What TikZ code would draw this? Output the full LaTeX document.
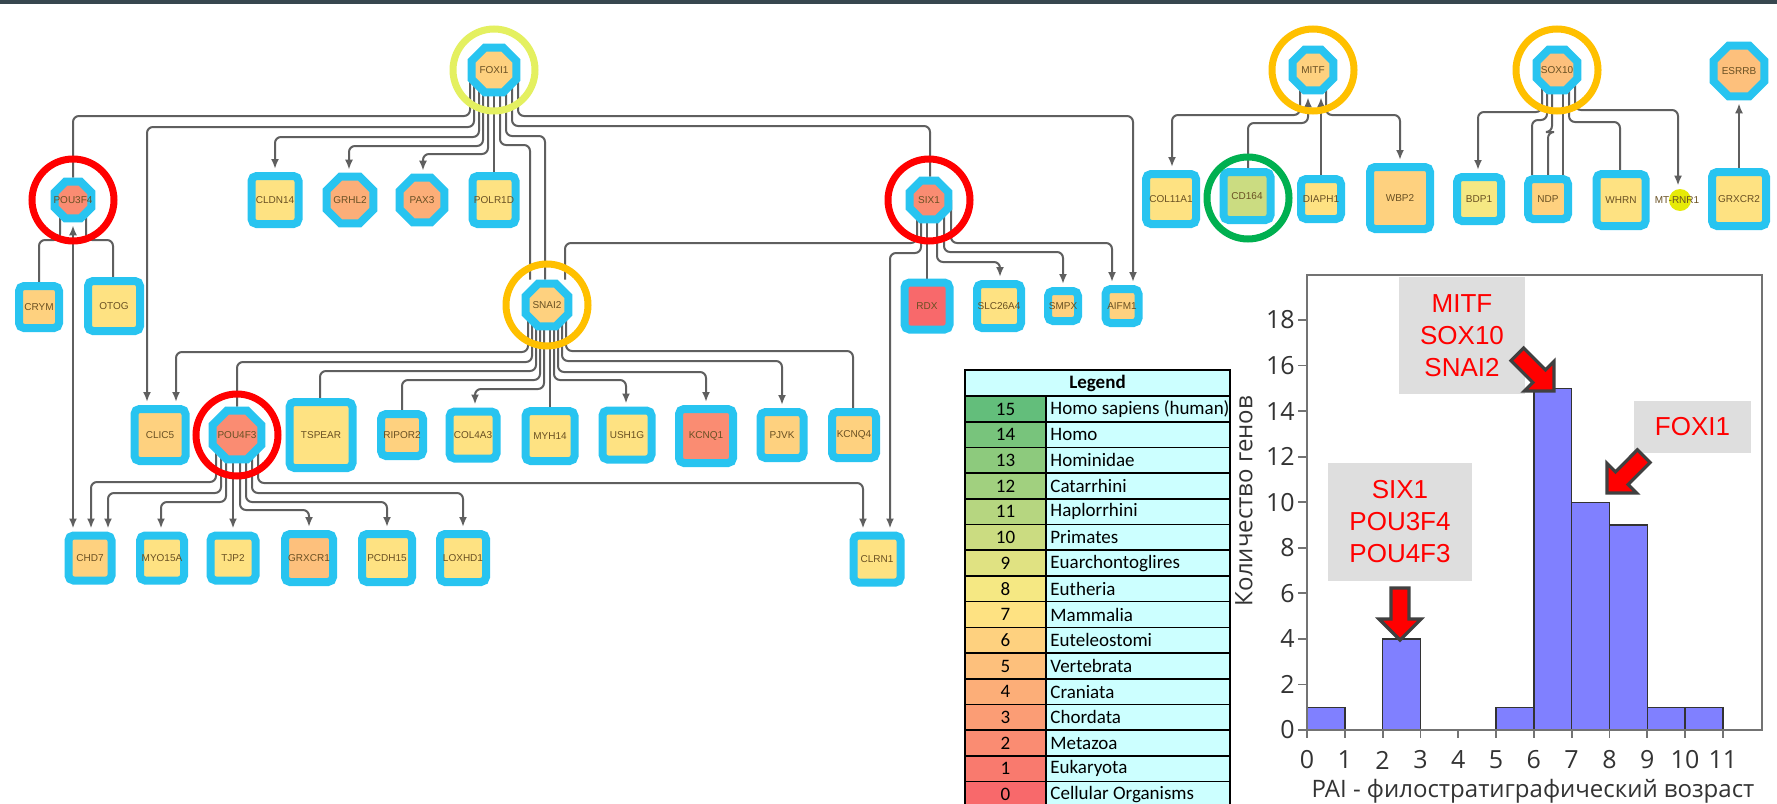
\documentclass[tikz,border=0pt]{standalone}
\usepackage{fontspec}
\setmainfont{Carlito}
\newfontfamily\arialf{Liberation Sans}
\newfontfamily\opensf{Open Sans}
\usetikzlibrary{arrows.meta,positioning,shapes.geometric,backgrounds,calc}

% phylostratum colours (legend scale)
\definecolor{p0}{RGB}{248,105,107}
\definecolor{p1}{RGB}{249,122,110}
\definecolor{p2}{RGB}{250,140,114}
\definecolor{p3}{RGB}{251,157,117}
\definecolor{p4}{RGB}{252,174,120}
\definecolor{p5}{RGB}{253,192,124}
\definecolor{p6}{RGB}{254,209,127}
\definecolor{p7}{RGB}{254,226,130}
\definecolor{p8}{RGB}{245,232,131}
\definecolor{p9}{RGB}{224,226,130}
\definecolor{p10}{RGB}{203,220,129}
\definecolor{p11}{RGB}{182,214,128}
\definecolor{p12}{RGB}{161,208,127}
\definecolor{p13}{RGB}{141,202,125}
\definecolor{p14}{RGB}{120,196,124}
\definecolor{p15}{RGB}{99,190,123}
\definecolor{cyanb}{RGB}{40,196,240}
\definecolor{genetext}{RGB}{105,80,35}
\definecolor{wirec}{RGB}{95,95,95}
\definecolor{legcyan}{RGB}{204,255,255}
\definecolor{hlyg}{RGB}{228,240,96}
\definecolor{hlor}{RGB}{255,192,0}
\definecolor{hlred}{RGB}{255,0,0}
\definecolor{hlgr}{RGB}{0,176,80}
\definecolor{topbar}{RGB}{55,71,79}
\definecolor{barfill}{RGB}{128,128,255}
\definecolor{boxgray}{RGB}{222,222,222}
\definecolor{arrline}{RGB}{64,64,64}

\newcommand{\genef}{\arialf\fontsize{5}{5}\selectfont}
\newcommand{\gn}[1]{\makebox[0pt]{#1}}
\newcommand{\link}[6][wire]{\draw[#1] (#2.center -| #3,0) |- (#5,#4) -- (#5,#4 |- #6.north);}

\begin{document}
\begin{tikzpicture}[
  x=0.5pt, y=-0.5pt,
  gene/.style n args={3}{rectangle, rounded corners=2.5pt, draw=cyanb, line width=4pt, fill=#1,
    minimum width={(#2-8)*0.5pt}, minimum height={(#3-8)*0.5pt}, inner sep=0pt, font=\genef, text=genetext},
  tf/.style 2 args={regular polygon, regular polygon sides=8, draw=cyanb, line width=4pt, fill=#1,
    minimum size={(#2/0.924-8)*0.5pt}, inner sep=0pt, font=\genef, text=genetext},
  mtdot/.style={circle, fill=yellow!90!green, minimum size=11pt, inner sep=0pt},
  hl/.style={circle, draw=#1, line width=3.5pt, minimum size=41pt, inner sep=0pt},
  wire/.style={draw=wirec, line width=1pt, rounded corners=3pt},
  arr/.style={wire, -{Latex[length=5pt,width=4pt]}, shorten >=1.5pt},
  lgn/.style={font=\fontsize{9.5}{11}\selectfont},
  lgt/.style={anchor=west, inner sep=0pt, font=\fontsize{9.5}{11}\selectfont},
  lgline/.style={draw=black, line width=0.8pt},
  histbar/.style={fill=barfill, draw=black!80, line width=0.7pt},
  chartline/.style={draw=black!55, line width=0.9pt},
  ytick/.style={anchor=east, inner sep=1pt, font=\opensf\fontsize{12.5}{14}\selectfont, text=black!80},
  xtick/.style={inner sep=0pt, font=\opensf\fontsize{12.5}{14}\selectfont, text=black!80},
  annot/.style={fill=boxgray, text=red, align=center, inner sep=0pt, font=\arialf\fontsize{13}{16}\selectfont},
  blockarr/.style={fill=red, draw=arrline, line width=1.6pt, line join=miter}
]
\useasboundingbox (0,0) rectangle (1777,803);
\clip (0,0) rectangle (1777,803);

% regulators
\node[tf={p6}{52}] (foxi) at (494,70) {\gn{FOXI1}};
\node[tf={p2}{44}] (pou3) at (73,200) {\gn{POU3F4}};
\node[tf={p2}{46}] (six) at (929,200) {\gn{SIX1}};
\node[tf={p6}{50}] (snai) at (547,305) {\gn{SNAI2}};
\node[tf={p2}{56}] (pou4) at (237,435) {\gn{POU4F3}};
\node[tf={p6}{48}] (mitf) at (1313,70) {\gn{MITF}};
\node[tf={p5}{48}] (sox) at (1557,70) {\gn{SOX10}};
\node[tf={p5}{58}] (esrrb) at (1739,71) {\gn{ESRRB}};

% targets
\node[gene={p7}{55}{56}] (cldn) at (275,200) {\gn{CLDN14}};
\node[tf={p4}{54}] (grhl) at (350,200) {\gn{GRHL2}};
\node[tf={p4}{52}] (pax) at (422,200) {\gn{PAX3}};
\node[gene={p7}{51}{56}] (polr) at (494,200) {\gn{POLR1D}};
\node[gene={p6}{48}{50}] (crym) at (39,307) {\gn{CRYM}};
\node[gene={p7}{60}{58}] (otog) at (114,306) {\gn{OTOG}};
\node[gene={p0}{53}{55}] (rdx) at (927,306) {\gn{RDX}};
\node[gene={p7}{52}{52}] (slc) at (999,306) {\gn{SLC26A4}};
\node[gene={p6}{38}{38}] (smpx) at (1063,306) {\gn{SMPX}};
\node[gene={p6}{41}{42}] (aifm) at (1122,306) {\gn{AIFM1}};
\node[gene={p6}{59}{60}] (clic) at (160,435) {\gn{CLIC5}};
\node[gene={p7}{71}{74}] (tspear) at (321,435) {\gn{TSPEAR}};
\node[gene={p6}{50}{50}] (ripor) at (402,435) {\gn{RIPOR2}};
\node[gene={p7}{55}{55}] (col4) at (473,435) {\gn{COL4A3}};
\node[gene={p7}{57}{58}] (myh) at (550,436) {\gn{MYH14}};
\node[gene={p7}{57}{57}] (ush) at (627,435) {\gn{USH1G}};
\node[gene={p2}{62}{62}] (kcnq1) at (706,436) {\gn{KCNQ1}};
\node[gene={p6}{51}{54}] (pjvk) at (782,435) {\gn{PJVK}};
\node[gene={p6}{52}{54}] (kcnq4) at (854,435) {\gn{KCNQ4}};
\node[gene={p6}{51}{53}] (chd) at (90,558) {\gn{CHD7}};
\node[gene={p7}{52}{53}] (myo) at (162,558) {\gn{MYO15A}};
\node[gene={p7}{53}{53}] (tjp) at (233,558) {\gn{TJP2}};
\node[gene={p5}{56}{56}] (grxa) at (309,558) {\gn{GRXCR1}};
\node[gene={p7}{58}{56}] (pcdh) at (387,558) {\gn{PCDH15}};
\node[gene={p7}{54}{56}] (lox) at (463,558) {\gn{LOXHD1}};
\node[gene={p7}{55}{55}] (clrn) at (877,559) {\gn{CLRN1}};
\node[gene={p7}{58}{58}] (colx) at (1171,199) {\gn{COL11A1}};
\node[gene={p10}{55}{56}] (cdx) at (1247,196) {\gn{CD164}};
\node[gene={p7}{48}{48}] (diaph) at (1321,199) {\gn{DIAPH1}};
\node[gene={p6}{68}{70}] (wbp) at (1400,198) {\gn{WBP2}};
\node[gene={p8}{52}{52}] (bdp) at (1479,199) {\gn{BDP1}};
\node[gene={p6}{48}{48}] (ndp) at (1548,199) {\gn{NDP}};
\node[gene={p7}{57}{60}] (whrn) at (1621,200) {\gn{WHRN}};
\node[mtdot] (mtr) at (1680,200) {};
\node[font=\genef, text=genetext, inner sep=0pt] (mtrlab) at (1677,200) {MT-RNR1};
\node[gene={p7}{62}{62}] (grxb) at (1739,199) {\gn{GRXCR2}};

\begin{scope}[on background layer]
  \fill[white] (0,0) rectangle (1777,803);
  % FOXI1
  \link{foxi}{470}{116}{73}{pou3}
  \link[arr]{foxi}{474}{127}{147}{clic}
  \link[arr]{foxi}{479}{137}{275}{cldn}
  \link[arr]{foxi}{483}{146}{349}{grhl}
  \link[arr]{foxi}{488}{154}{423}{pax}
  \draw[wire] (foxi) -- (polr);
  \link{foxi}{500}{145}{530}{snai}
  \link{foxi}{506}{136}{545}{snai}
  \link{foxi}{512}{126}{930}{six}
  \link[arr]{foxi}{518}{116}{1133}{aifm}
  % POU3F4
  \link{pou3}{60}{240}{39}{crym}
  \link{pou3}{86}{240}{113}{otog}
  \draw[wire, {Latex[length=5pt,width=4pt]}-{Latex[length=5pt,width=4pt]}, shorten <=1.5pt, shorten >=1.5pt]
    (pou3.south) -- (pou3.south |- chd.north);
  % SIX1
  \link{six}{917}{243}{565}{snai}
  \link[arr]{six}{921}{253}{890}{clrn}
  \draw[wire] (rdx.north |- six.center) -- (rdx.north);
  \link[arr]{six}{937}{262}{1000}{slc}
  \link[arr]{six}{944}{252}{1063}{smpx}
  \link[arr]{six}{951}{243}{1112}{aifm}
  % SNAI2
  \link[arr]{snai}{528}{352}{176}{clic}
  \link{snai}{532}{362}{237}{pou4}
  \link{snai}{536}{371}{320}{tspear}
  \link{snai}{540}{380}{402}{ripor}
  \link[arr]{snai}{544}{389}{475}{col4}
  \draw[wire] (myh.north |- snai.center) -- (myh.north);
  \link[arr]{snai}{554}{380}{626}{ush}
  \link[arr]{snai}{558}{372}{706}{kcnq1}
  \link[arr]{snai}{562}{361}{782}{pjvk}
  \link{snai}{566}{351}{853}{kcnq4}
  % POU4F3
  \link[arr]{pou4}{216}{482}{91}{chd}
  \link[arr]{pou4}{221}{493}{108}{chd}
  \link[arr]{pou4}{226}{502}{161}{myo}
  \draw[arr] (tjp.north |- pou4.center) -- (tjp.north);
  \link[arr]{pou4}{240}{510}{309}{grxa}
  \link[arr]{pou4}{246}{502}{387}{pcdh}
  \link[arr]{pou4}{252}{493}{463}{lox}
  \link[arr]{pou4}{258}{483}{863}{clrn}
  % MITF
  \link[arr]{mitf}{1300}{115}{1172}{colx}
  \draw[arr] (1248,0 |- cdx.north) |- (1308,123) -- (1308,0 |- mitf.south);
  \draw[arr] (1321,0 |- diaph.north) -- (1321,0 |- mitf.south);
  \link[arr]{mitf}{1326}{115}{1400}{wbp}
  % SOX10
  \link[arr]{sox}{1542}{112}{1478}{bdp}
  \link{sox}{1547}{120}{1532}{ndp}
  \link{sox}{1552}{132}{1548}{ndp}
  \draw[wire] (1563,0 |- sox.center) -- (1563,0 |- ndp.north);
  \link{sox}{1569}{122}{1620}{whrn}
  \link[arr]{sox}{1575}{110}{1678}{mtr}
  \draw[arr] (esrrb.south |- grxb.north) -- (esrrb.south);
\end{scope}
\fill[topbar] (0,0) rectangle (1777,4);

% highlighted regulators
\node[hl=hlyg] (hfoxi) at (foxi) {};
\node[hl=hlred] (hpou3) at (pou3) {};
\node[hl=hlred] (hsix) at (six) {};
\node[hl=hlor] (hsnai) at (snai) {};
\node[hl=hlred] (hpou4) at (pou4) {};
\node[hl=hlor] (hmitf) at (mitf) {};
\node[hl=hlor] (hsox) at (sox) {};
\node[hl=hlgr] (hcdx) at (1248,198) {};

% legend
\fill[legcyan] (965,370) rectangle (1230,396);
\node[font=\bfseries\fontsize{9.5}{11}\selectfont] (lgh) at (1097.5,383) {Legend};
\foreach \v/\nm [count=\k from 0] in {15/Homo sapiens (human), 14/Homo, 13/Hominidae, 12/Catarrhini,
    11/Haplorrhini, 10/Primates, 9/Euarchontoglires, 8/Eutheria, 7/Mammalia, 6/Euteleostomi,
    5/Vertebrata, 4/Craniata, 3/Chordata, 2/Metazoa, 1/Eukaryota, 0/Cellular Organisms}{
  \fill[p\v] (965,{396+25.7*\k}) rectangle (1046,{421.7+25.7*\k});
  \fill[legcyan] (1046,{396+25.7*\k}) rectangle (1230,{421.7+25.7*\k});
  \node[lgn] (ln\v) at (1005.5,{409+25.7*\k}) {\v};
  \node[lgt] (lt\v) at (1050,{409+25.7*\k}) {\nm};
}
\foreach \k in {0,...,16}
  \draw[lgline] (965,{396+25.7*\k}) -- (1230,{396+25.7*\k});
\draw[lgline] (965,810) -- (965,370) -- (1230,370) -- (1230,810);
\draw[lgline] (1046,396) -- (1046,810);

% histogram
\foreach \b/\h in {0/1, 2/4, 5/1, 6/15, 7/10, 8/9, 9/1, 10/1}
  \draw[histbar] ({1307+37.8*\b},730) rectangle ({1307+37.8*(\b+1)},{730-22.78*\h});
\draw[chartline] (1307,275) rectangle (1762,730);
\foreach \c in {0,2,...,18}{
  \draw[chartline] (1298,{730-22.78*\c}) -- (1307,{730-22.78*\c});
  \node[ytick] (yt\c) at (1297,{730-22.78*\c}) {\c};
}
\foreach \i in {0,...,11}{
  \draw[chartline] ({1307+37.8*\i},730) -- ({1307+37.8*\i},738);
  \node[xtick] (xt\i) at ({1307+37.8*\i},760) {\i};
}
\node[rotate=90, font=\opensf\fontsize{12}{14}\selectfont, text=black!80] (ylab) at (1244,501) {Количество генов};
\node[font=\opensf\fontsize{12}{14}\selectfont, text=black!80] (xlab) at (1533,791) {PAI - филостратиграфический возраст};

\node[annot, minimum width=63pt, minimum height=58.5pt] (n6) at (1462,335.5) {MITF\\SOX10\\SNAI2};
\node[annot, minimum width=58.5pt, minimum height=26pt] (n7) at (1692.5,427) {FOXI1};
\node[annot, minimum width=72pt, minimum height=59pt] (n2) at (1400,522) {SIX1\\POU3F4\\POU4F3};

\draw[blockarr] (1400,640) -- (1421,619) -- (1409,619) -- (1409,588) -- (1391,588) -- (1391,619) -- (1379,619) -- cycle;
\draw[blockarr] (1554,391) -- (1524.3,391.0) -- (1532.8,382.5) -- (1510.9,360.6) -- (1523.6,347.9) -- (1545.5,369.8) -- (1554.0,361.3) -- cycle;
\draw[blockarr] (1607,493) -- (1636.7,493.0) -- (1628.2,484.5) -- (1650.1,462.6) -- (1637.4,449.8) -- (1615.5,471.8) -- (1607.0,463.3) -- cycle;
\end{tikzpicture}
\end{document}
